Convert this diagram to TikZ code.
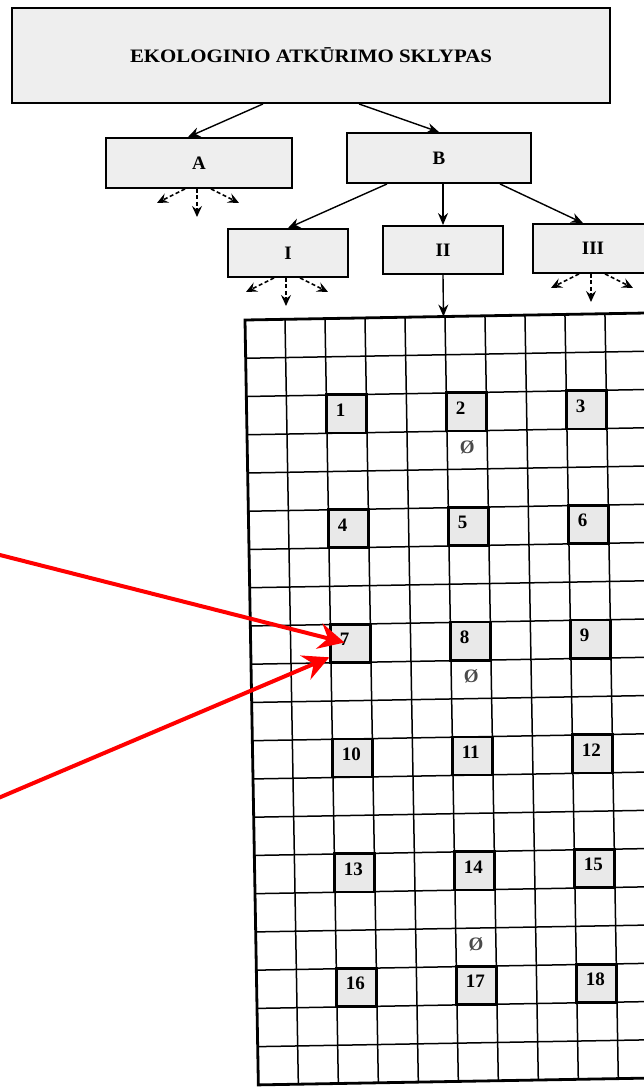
\documentclass[tikz,border=0pt]{standalone}
\usepackage{fontspec}
\setmainfont{Liberation Serif}
\usetikzlibrary{arrows.meta,calc}
\definecolor{boxgray}{HTML}{EEEEEE}
\definecolor{cellgray}{HTML}{E9E9E9}
\definecolor{redarrow}{HTML}{FF0000}
\definecolor{zerogray}{HTML}{4A4A4A}
\begin{document}
\begin{tikzpicture}[x=1pt,y=-1pt,
  catbox/.style={draw=black, line width=1.9pt, fill=boxgray, inner sep=0pt,
    font=\fontsize{19}{22}\selectfont\bfseries},
  conn/.style={line width=1.4pt, -{Stealth[length=12pt,width=10pt,inset=4pt]}},
  spread/.style={line width=1.5pt, dash pattern=on 4pt off 2.5pt,
    -{Stealth[length=11pt,width=10pt,inset=4pt]}},
  gridline/.style={line width=1.5pt},
  gridborder/.style={line width=2.8pt},
  numbox/.style={draw=black, line width=2.6pt, fill=cellgray, minimum width=40pt,
    minimum height=38.25pt, inner sep=0pt},
  numlbl/.style={font=\fontsize{19}{22}\selectfont\bfseries, inner sep=0pt, anchor=west},
  zero/.style={font=\fontsize{19}{22}\selectfont\bfseries, text=zerogray, inner sep=0pt},
  redarr/.style={draw=redarrow, line width=4pt,
    -{Stealth[length=26pt,width=26pt,inset=9pt]}}
]
\useasboundingbox (0,0) rectangle (644,1088);
\clip (0,0) rectangle (644,1088);
\fill[white] (0,0) rectangle (644,1088);

% top hierarchy
\node[catbox, minimum width=598pt, minimum height=95pt] (top) at (311,55.5)
  {\fontsize{19}{22}\selectfont\scalebox{1.1}[1]{EKOLOGINIO ATKŪRIMO SKLYPAS}};
\node[catbox, minimum width=186pt, minimum height=50pt] (A) at (199,163) {A};
\node[catbox, minimum width=184pt, minimum height=50pt] (B) at (439,158) {B};
\node[catbox, minimum width=120pt, minimum height=48pt] (I) at (288,253) {I};
\node[catbox, minimum width=120pt, minimum height=48pt] (II) at (443,250) {II};
\node[catbox, minimum width=120pt, minimum height=49pt] (III) at (593,248.5) {III};

\draw[conn] ([xshift=-48pt]top.south) -- ([xshift=-11pt]A.north);
\draw[conn] ([xshift=48pt]top.south) -- (B.north);
\draw[conn] ([xshift=-52pt]B.south) -- (I.north);
\draw[conn] (II.north |- B.south) -- (II.north);
\draw[conn] ([xshift=61pt]B.south) -- ([xshift=-10pt]III.north);

\foreach \n in {A,I,III}{
  \coordinate (\n-l) at ($(\n.south)+(-42,14)$);
  \coordinate (\n-c) at ($(\n.south)+(-2,28)$);
  \coordinate (\n-r) at ($(\n.south)+(40,14)$);
  \draw[spread] ([xshift=-14pt]\n.south) -- (\n-l);
  \draw[spread] ([xshift=-2pt]\n.south) -- (\n-c);
  \draw[spread] ([xshift=12pt]\n.south) -- (\n-r);
}

% grid
\begin{scope}[shift={(245,320)}, rotate=1]
  \foreach \i in {1,...,10} \draw[gridline] (\i*40,0) -- (\i*40,765);
  \foreach \j in {1,...,19} \draw[gridline] (0,\j*38.25) -- (440,\j*38.25);
  \draw[gridborder] (440,0) -- (0,0) -- (0,765) -- (440,765);
  \coordinate (gtop) at (198.5,0);
  \foreach \k/\c/\r in {1/2/2,2/5/2,3/8/2,4/2/5,5/5/5,6/8/5,7/2/8,8/5/8,9/8/8,
      10/2/11,11/5/11,12/8/11,13/2/14,14/5/14,15/8/14,16/2/17,17/5/17,18/8/17}{
    \node[numbox] (n\k) at (\c*40+20, \r*38.25+19.125) {};
    \node[numlbl] (l\k) at ([xshift=-11pt,yshift=4pt]n\k.center) {\k};
  }
  \node[zero] (z1) at (220, 3*38.25+16) {Ø};
  \node[zero] (z2) at (220, 9*38.25+16) {Ø};
  \node[zero] (z3) at (220, 16*38.25+16) {Ø};
\end{scope}

\draw[conn] (II.south) -- (gtop);

% red arrows
\coordinate (r1) at (-4,554);
\coordinate (r2) at (-4,799);
\draw[redarr] (r1) -- ([yshift=-3pt]l7.center);
\draw[redarr] (r2) -- ([yshift=-14pt]n7.west);
\end{tikzpicture}
\end{document}
